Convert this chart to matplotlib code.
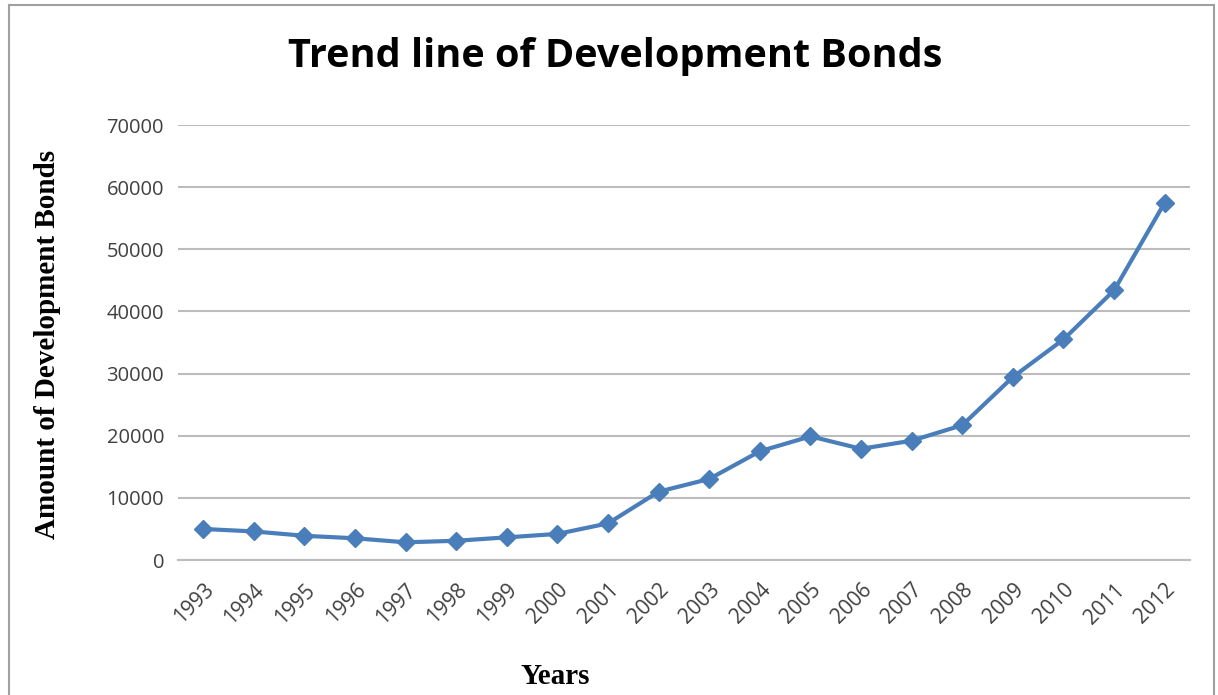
import matplotlib.pyplot as plt
from matplotlib.patches import Rectangle

years = [str(y) for y in range(1993, 2013)]
bonds = [5000, 4600, 3900, 3500, 2850, 3100, 3650, 4200, 5900, 11000,
         13050, 17500, 19900, 17900, 19200, 21700, 29450, 35500, 43400, 57500]
yticks = list(range(0, 70001, 10000))

fig = plt.figure(figsize=(12.18, 6.95), dpi=100)
fig.patches.append(Rectangle((0.007, -0.01), 0.99, 1.003, transform=fig.transFigure,
                             fill=False, edgecolor='#a0a0a0', linewidth=1.5))

ax = fig.add_axes([0.1461, 0.1942, 0.8309, 0.6259])
x = list(range(len(years)))
ax.plot(x, bonds, color='#4a7ebb', linewidth=3, marker='D', markersize=9,
        markeredgecolor='#4a7ebb', markerfacecolor='#4a7ebb')

ax.set_xlim(-0.5, len(years) - 0.5)
ax.set_ylim(0, 70000)
ax.set_yticks(yticks)
ax.set_yticklabels([str(v) for v in yticks], fontsize=14.5, color='#404040',
                   family='Open Sans')
ax.set_xticks(x)
ax.set_xticklabels(years, rotation=45, ha='right', rotation_mode='anchor',
                   fontsize=15, color='#404040', family='Open Sans')
ax.tick_params(axis='y', length=0, pad=10)
ax.tick_params(axis='x', length=0, pad=14)

ax.grid(axis='y', color='#bcbcbc', linewidth=1.5)
ax.set_axisbelow(True)
for s in ['top', 'right', 'left']:
    ax.spines[s].set_visible(False)
ax.spines['bottom'].set_color('#bcbcbc')
ax.spines['bottom'].set_linewidth(1.5)

fig.text(0.505, 0.918, 'Trend line of Development Bonds', ha='center', va='center',
         fontsize=28.5, fontweight='bold', family='Open Sans')
fig.text(0.039, 0.505, 'Amount of Development Bonds', rotation=90, ha='center',
         va='center', fontsize=21, fontweight='bold', family='Liberation Serif')
fig.text(0.456, 0.027, 'Years', ha='center', va='center', fontsize=21,
         fontweight='bold', family='Liberation Serif')

fig.savefig('out.png', dpi=100)
